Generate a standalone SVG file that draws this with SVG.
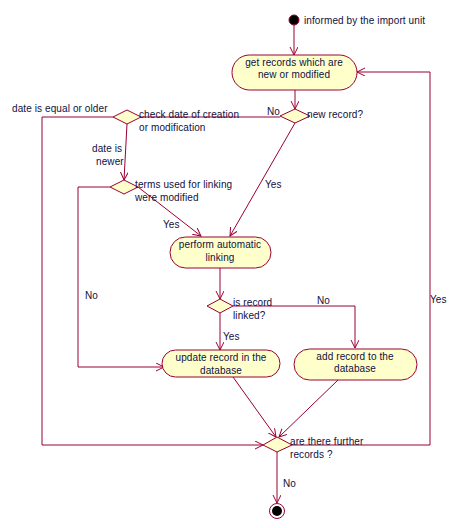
<svg xmlns="http://www.w3.org/2000/svg" width="454" height="528" viewBox="0 0 454 528">
<defs>
<style>
.ln{fill:none;stroke:#990033;stroke-width:1}
.act{fill:#FFFFCC;stroke:#990033;stroke-width:1}
.t{font-family:"Liberation Sans",Arial,sans-serif;font-size:10px;letter-spacing:0.1px;fill:#101040}
.c{text-anchor:middle}
</style>
<marker id="ar" markerWidth="10" markerHeight="10" refX="8" refY="4" orient="auto" markerUnits="userSpaceOnUse">
<polyline points="0,0 8,4 0,8" fill="none" stroke="#990033" stroke-width="1"/>
</marker>
</defs>
<rect width="454" height="528" fill="#ffffff"/>
<g id="connectors">
<line class="ln" x1="294" y1="25" x2="294" y2="55" marker-end="url(#ar)"/>
<line class="ln" x1="295" y1="90" x2="295" y2="109" marker-end="url(#ar)"/>
<polyline class="ln" points="280,117 141,117"/>
<polyline class="ln" points="113,117 42,117 42,445 263,445" marker-end="url(#ar)"/>
<line class="ln" x1="127" y1="124" x2="124" y2="180" marker-end="url(#ar)"/>
<polyline class="ln" points="110,187 78,187 78,367 164,367" marker-end="url(#ar)"/>
<line class="ln" x1="138" y1="187" x2="201" y2="236" marker-end="url(#ar)"/>
<line class="ln" x1="295" y1="123" x2="230" y2="236" marker-end="url(#ar)"/>
<line class="ln" x1="220" y1="268" x2="220" y2="299" marker-end="url(#ar)"/>
<polyline class="ln" points="233,306 355,306 355,348" marker-end="url(#ar)"/>
<line class="ln" x1="220" y1="313" x2="220" y2="350" marker-end="url(#ar)"/>
<line class="ln" x1="233" y1="377" x2="276" y2="437" marker-end="url(#ar)"/>
<line class="ln" x1="338" y1="380" x2="279" y2="437" marker-end="url(#ar)"/>
<polyline class="ln" points="292,445 430,445 430,72 357,72" marker-end="url(#ar)"/>
<line class="ln" x1="277" y1="452" x2="277" y2="503" marker-end="url(#ar)"/>
<text class="t" x="267" y="115">No</text>
<text class="t" x="12" y="112">date is equal or older</text>
<text class="t" x="92" y="152">date is</text>
<text class="t" x="96" y="165">newer</text>
<text class="t" x="85" y="299">No</text>
<text class="t" x="163" y="228">Yes</text>
<text class="t" x="265" y="188">Yes</text>
<text class="t" x="317" y="304">No</text>
<text class="t" x="223" y="340">Yes</text>
<text class="t" x="430" y="303">Yes</text>
<text class="t" x="283" y="487">No</text>
</g>
<g id="start">
<circle cx="294" cy="20" r="5" fill="#000000" stroke="#990033" stroke-width="1"/>
<text class="t" x="304" y="24">informed by the import unit</text>
</g>
<g id="get-records">
<rect class="act" x="232" y="55" width="125" height="35" rx="17.5" ry="17.5"/>
<text class="t c" x="294" y="66">get records which are</text>
<text class="t c" x="294" y="78">new or modified</text>
</g>
<g id="new-record">
<polygon class="act" points="280,116 295,109 310,116 295,123"/>
<text class="t" x="307" y="118">new record?</text>
</g>
<g id="check-date">
<polygon class="act" points="113,117 127,110 141,117 127,124"/>
<text class="t" x="139" y="118">check date of creation</text>
<text class="t" x="139" y="131">or modification</text>
</g>
<g id="terms-modified">
<polygon class="act" points="110,187 124,180 138,187 124,194"/>
<text class="t" x="135" y="188">terms used for linking</text>
<text class="t" x="135" y="201">were modified</text>
</g>
<g id="perform-linking">
<rect class="act" x="170" y="237" width="101" height="31" rx="15.5" ry="15.5"/>
<text class="t c" x="220" y="248">perform automatic</text>
<text class="t c" x="220" y="261">linking</text>
</g>
<g id="is-linked">
<polygon class="act" points="207,306 220,299 233,306 220,313"/>
<text class="t" x="233" y="306">is record</text>
<text class="t" x="233" y="319">linked?</text>
</g>
<g id="update-record">
<rect class="act" x="162" y="350" width="118" height="27" rx="13.5" ry="13.5"/>
<text class="t c" x="221" y="361">update record in the</text>
<text class="t c" x="221" y="374">database</text>
</g>
<g id="add-record">
<rect class="act" x="294" y="349" width="123" height="31" rx="15.5" ry="15.5"/>
<text class="t c" x="355" y="360">add record to the</text>
<text class="t c" x="355" y="372">database</text>
</g>
<g id="further-records">
<polygon class="act" points="263,445 277,437 292,445 277,452"/>
<text class="t" x="290" y="445">are there further</text>
<text class="t" x="290" y="458">records ?</text>
</g>
<g id="end">
<circle cx="277" cy="511" r="7.5" fill="#ffffff" stroke="#990033" stroke-width="1"/>
<circle cx="277" cy="511" r="5" fill="#000000"/>
</g>
</svg>
